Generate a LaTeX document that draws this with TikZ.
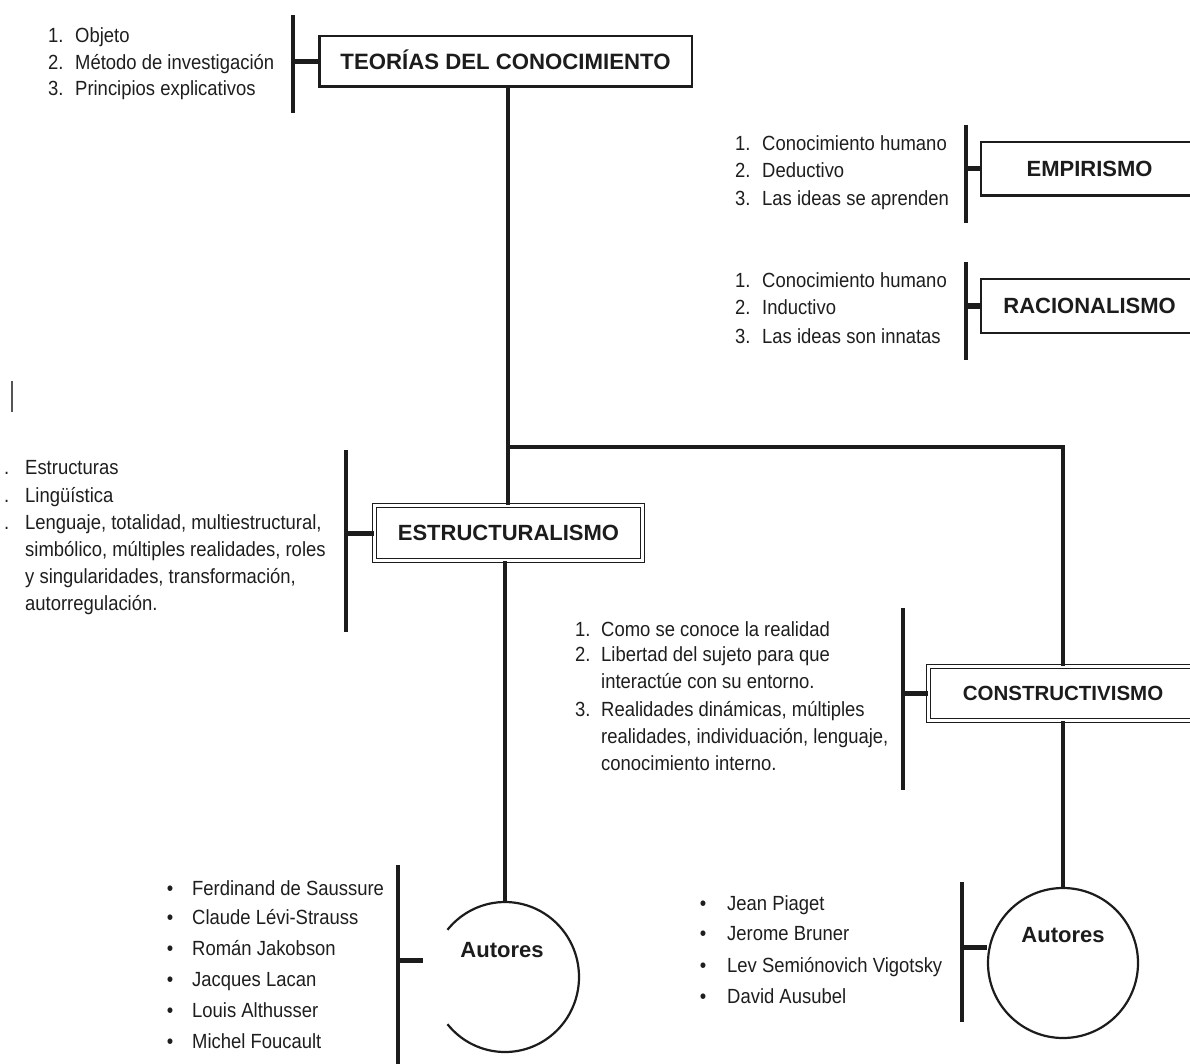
\documentclass[tikz,border=0pt]{standalone}
\usepackage{fontspec}
\setmainfont{Liberation Sans}
\newfontfamily\narrowfont[FakeStretch=0.9]{Liberation Sans}
\definecolor{ink}{HTML}{1C1C1C}
\definecolor{txt}{HTML}{1E1E1E}
\begin{document}
\begin{tikzpicture}[x=1pt,y=-1pt,
  item/.style={inner sep=0pt, anchor=base west, text=txt, font=\narrowfont\fontsize{20.5}{24}\selectfont},
  bul/.style={inner sep=0pt, anchor=base, text=txt, font=\narrowfont\fontsize{20.5}{24}\selectfont},
  conn/.style={draw=ink, line width=4pt},
  brk/.style={draw=ink, line width=4pt},
  stub/.style={draw=ink, line width=5pt},
  ttl/.style={font=\bfseries\fontsize{22}{26}\selectfont, text=ink},
  sbox/.style={draw=ink, line width=2.5pt, fill=white, inner sep=0pt, text height=15.7pt, text depth=0pt},
  dbox/.style={draw=ink, line width=1.3pt, double=white, double distance=2.6pt, fill=white, inner sep=0pt, text height=15.7pt, text depth=0pt},
  circ/.style={draw=ink, line width=2.2pt},
]
\useasboundingbox (0,0) rectangle (1190,1064);
\fill[white] (0,0) rectangle (1190,1064);
\clip (0,0) rectangle (1190,1064);

% ---------- boxes ----------
\node[sbox, ttl, font=\bfseries\fontsize{22.2}{26}\selectfont, text height=15.9pt, minimum width=372.5pt, minimum height=50.5pt] (teo) at (505.5,61.5) {TEORÍAS DEL CONOCIMIENTO};
\node[sbox, ttl, minimum width=216.75pt, minimum height=53.5pt] (emp) at (1089.6,169) {EMPIRISMO};
\node[sbox, ttl, minimum width=216.75pt, minimum height=53.5pt] (rac) at (1089.6,306) {RACIONALISMO};
\node[dbox, ttl, minimum width=267.8pt, minimum height=54.8pt] (est) at (508.5,533) {ESTRUCTURALISMO};
\node[dbox, ttl, font=\bfseries\fontsize{20.5}{24}\selectfont, text height=14.7pt, minimum width=268.8pt, minimum height=53.8pt] (con) at (1063,693.5) {CONSTRUCTIVISMO};

% ---------- trunk ----------
\coordinate (j) at (508,447);
\draw[conn] (teo.south -| j) -- (est.north -| j);
\draw[conn, line join=miter] (j) -| (con.north);

% ---------- left Autores (open circle) ----------
\coordinate (cL) at (505,977);
\coordinate (topL) at (505,902);
\draw[conn] (est.south -| topL) -- (topL);
\draw[circ] (cL) ++(141:74 and 75) arc[start angle=141, end angle=-141, x radius=74, y radius=75];
\node[ttl, inner sep=0pt] (autLt) at (502,950) {Autores};

% ---------- right Autores ----------
\node[circ, circle, minimum size=150pt, inner sep=0pt] (autR) at (1063,963) {};
\node[ttl, inner sep=0pt] (autRt) at (1063,935) {Autores};
\draw[conn] (con.south) -- (autR.north);

% ---------- brackets ----------
\coordinate (b1t) at (293,15);  \coordinate (b1b) at (293,113);
\draw[brk] (b1t) -- (b1b);
\draw[stub] (b1t |- teo.west) -- (teo.west);

\coordinate (b2t) at (966,125); \coordinate (b2b) at (966,223);
\draw[brk] (b2t) -- (b2b);
\draw[stub] (b2t |- emp.west) -- (emp.west);

\coordinate (b3t) at (966,262); \coordinate (b3b) at (966,360);
\draw[brk] (b3t) -- (b3b);
\draw[stub] (b3t |- rac.west) -- (rac.west);

\coordinate (b4t) at (346,450); \coordinate (b4b) at (346,632);
\draw[brk] (b4t) -- (b4b);
\draw[stub] (b4t |- est.west) -- (est.west);

\coordinate (b5t) at (903,608); \coordinate (b5b) at (903,790);
\draw[brk] (b5t) -- (b5b);
\draw[stub] (b5t |- con.west) -- (con.west);

\coordinate (b6t) at (398,865); \coordinate (b6b) at (398,1070);
\draw[brk] (b6t) -- (b6b);
\coordinate (b6s) at (398,960); \coordinate (b6e) at (423,960);
\draw[stub] (b6s) -- (b6e);

\coordinate (b7t) at (962,882); \coordinate (b7b) at (962,1022);
\draw[brk] (b7t) -- (b7b);
\coordinate (b7s) at (962,947);
\draw[stub] (b7s) -- (b7s -| autR.west);

% stray cursor mark
\coordinate (cur1) at (12,381); \coordinate (cur2) at (12,412);
\draw[ink!75, line width=1.5pt] (cur1) -- (cur2);

% ---------- list: Teorias ----------
\node[item] (tn1) at (48,43)   {1.};  \node[item] (tt1) at (75,43)   {Objeto};
\node[item] (tn2) at (48,69.5) {2.};  \node[item] (tt2) at (75,69.5) {Método de investigación};
\node[item] (tn3) at (48,96)   {3.};  \node[item] (tt3) at (75,96)   {Principios explicativos};

% ---------- list: Empirismo ----------
\node[item] (en1) at (735,151) {1.}; \node[item] (et1) at (762,151) {Conocimiento humano};
\node[item] (en2) at (735,178) {2.}; \node[item] (et2) at (762,178) {Deductivo};
\node[item] (en3) at (735,206) {3.}; \node[item] (et3) at (762,206) {Las ideas se aprenden};

% ---------- list: Racionalismo ----------
\node[item] (rn1) at (735,288) {1.}; \node[item] (rt1) at (762,288) {Conocimiento humano};
\node[item] (rn2) at (735,315) {2.}; \node[item] (rt2) at (762,315) {Inductivo};
\node[item] (rn3) at (735,343) {3.}; \node[item] (rt3) at (762,343) {Las ideas son innatas};

% ---------- list: Estructuralismo (numbers cut off at the edge: only the dots show) ----------
\node[item] (sn1) at (4,474) {.}; \node[item] (st1) at (25,474) {Estructuras};
\node[item] (sn2) at (4,502) {.}; \node[item] (st2) at (25,502) {Lingüística};
\node[item] (sn3) at (4,529) {.}; \node[item] (st3) at (25,529) {Lenguaje, totalidad, multiestructural,};
\node[item] (st4) at (25,556) {simbólico, múltiples realidades, roles};
\node[item] (st5) at (25,583) {y singularidades, transformación,};
\node[item] (st6) at (25,610) {autorregulación.};

% ---------- list: Constructivismo ----------
\node[item] (cn1) at (575,636) {1.}; \node[item] (ct1) at (601,636) {Como se conoce la realidad};
\node[item] (cn2) at (575,661) {2.}; \node[item] (ct2) at (601,661) {Libertad del sujeto para que};
\node[item] (ct3) at (601,688) {interactúe con su entorno.};
\node[item] (cn3) at (575,716) {3.}; \node[item] (ct4) at (601,716) {Realidades dinámicas, múltiples};
\node[item] (ct5) at (601,743) {realidades, individuación, lenguaje,};
\node[item] (ct6) at (601,770) {conocimiento interno.};

% ---------- authors: left ----------
\node[bul] (lb1) at (170,895)  {•}; \node[item] (la1) at (192,895)  {Ferdinand de Saussure};
\node[bul] (lb2) at (170,924)  {•}; \node[item] (la2) at (192,924)  {Claude Lévi-Strauss};
\node[bul] (lb3) at (170,955)  {•}; \node[item] (la3) at (192,955)  {Román Jakobson};
\node[bul] (lb4) at (170,986)  {•}; \node[item] (la4) at (192,986)  {Jacques Lacan};
\node[bul] (lb5) at (170,1017) {•}; \node[item] (la5) at (192,1017) {Louis Althusser};
\node[bul] (lb6) at (170,1048) {•}; \node[item] (la6) at (192,1048) {Michel Foucault};

% ---------- authors: right ----------
\node[bul] (rb1) at (703,910)  {•}; \node[item] (ra1) at (727,910)  {Jean Piaget};
\node[bul] (rb2) at (703,940)  {•}; \node[item] (ra2) at (727,940)  {Jerome Bruner};
\node[bul] (rb3) at (703,972)  {•}; \node[item] (ra3) at (727,972)  {Lev Semiónovich Vigotsky};
\node[bul] (rb4) at (703,1003) {•}; \node[item] (ra4) at (727,1003) {David Ausubel};
\end{tikzpicture}
\end{document}
